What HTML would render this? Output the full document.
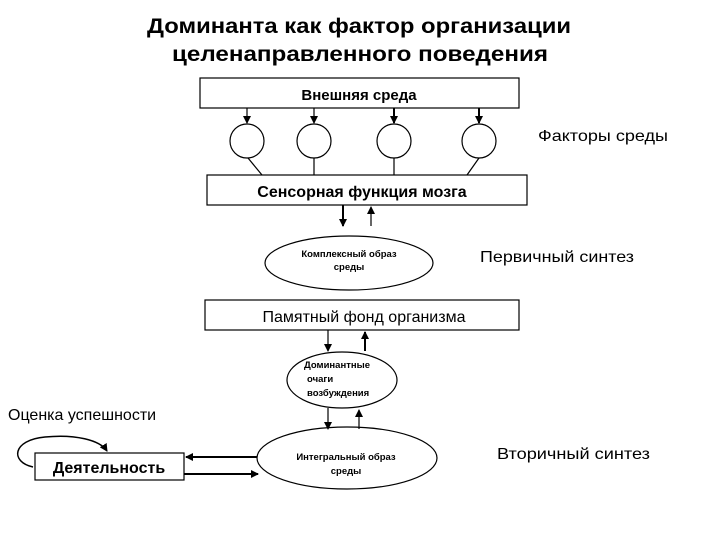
<!DOCTYPE html>
<html><head><meta charset="utf-8"><style>
html,body{margin:0;padding:0;background:#fff;}
svg{display:block;font-family:"Liberation Sans",Arial,sans-serif;}
</style></head><body>
<svg width="720" height="540" viewBox="0 0 720 540" xmlns="http://www.w3.org/2000/svg">
<defs>
<marker id="a" markerWidth="8" markerHeight="8" refX="7" refY="4" orient="auto" markerUnits="userSpaceOnUse">
<path d="M0,0 L8,4 L0,8 z" fill="#000"/></marker>
</defs>
<g fill="#000">
<text x="359" y="33" font-size="21" font-weight="bold" text-anchor="middle" textLength="424" lengthAdjust="spacingAndGlyphs">Доминанта как фактор организации</text>
<text x="360" y="61" font-size="21" font-weight="bold" text-anchor="middle" textLength="376" lengthAdjust="spacingAndGlyphs">целенаправленного поведения</text>
</g>
<g stroke="#000" fill="none" stroke-width="1.2">
<rect x="200" y="78" width="319" height="30" fill="#fff"/>
<circle cx="247" cy="141" r="17"/>
<circle cx="314" cy="141" r="17"/>
<circle cx="394" cy="141" r="17"/>
<circle cx="479" cy="141" r="17"/>
<line x1="247" y1="108" x2="247" y2="123" marker-end="url(#a)"/>
<line x1="314" y1="108" x2="314" y2="123" marker-end="url(#a)"/>
<line x1="394" y1="108" x2="394" y2="123" marker-end="url(#a)" stroke-width="2"/>
<line x1="479" y1="108" x2="479" y2="123" marker-end="url(#a)" stroke-width="2"/>
<line x1="248" y1="158" x2="262" y2="175"/>
<line x1="314" y1="158" x2="314" y2="175"/>
<line x1="394" y1="158" x2="394" y2="175"/>
<line x1="479" y1="158" x2="467" y2="175"/>
<rect x="207" y="175" width="320" height="30" fill="#fff"/>
<line x1="343" y1="205" x2="343" y2="226" marker-end="url(#a)" stroke-width="2"/>
<line x1="371" y1="226" x2="371" y2="207" marker-end="url(#a)"/>
<ellipse cx="349" cy="263" rx="84" ry="27"/>
<rect x="205" y="300" width="314" height="30" fill="#fff"/>
<line x1="328" y1="330" x2="328" y2="351" marker-end="url(#a)"/>
<line x1="365" y1="351" x2="365" y2="332" marker-end="url(#a)" stroke-width="2"/>
<ellipse cx="342" cy="380" rx="55" ry="28"/>
<line x1="328" y1="408" x2="328" y2="429" marker-end="url(#a)"/>
<line x1="359" y1="429" x2="359" y2="410" marker-end="url(#a)"/>
<ellipse cx="347" cy="458" rx="90" ry="31"/>
<rect x="35" y="453" width="149" height="27" fill="#fff"/>
<line x1="257" y1="457" x2="186" y2="457" marker-end="url(#a)" stroke-width="2"/>
<line x1="184" y1="474" x2="258" y2="474" marker-end="url(#a)" stroke-width="2"/>
<path d="M33,467 C10,462 12,440 45,437 C75,434 100,440 107,451" marker-end="url(#a)" stroke-width="1.5"/>
</g>
<g fill="#000">
<text x="359" y="100" font-size="15" font-weight="bold" text-anchor="middle">Внешняя среда</text>
<text x="538" y="141" font-size="16" textLength="130" lengthAdjust="spacingAndGlyphs">Факторы среды</text>
<text x="362" y="197" font-size="16" font-weight="bold" text-anchor="middle">Сенсорная функция мозга</text>
<text x="349" y="257" font-size="9.5" font-weight="bold" text-anchor="middle">Комплексный образ</text>
<text x="349" y="270" font-size="9.5" font-weight="bold" text-anchor="middle">среды</text>
<text x="480" y="262" font-size="16" textLength="154" lengthAdjust="spacingAndGlyphs">Первичный синтез</text>
<text x="364" y="322" font-size="16" text-anchor="middle">Памятный фонд организма</text>
<text x="304" y="368" font-size="9.5" font-weight="bold">Доминантные</text>
<text x="307" y="382" font-size="9.5" font-weight="bold">очаги</text>
<text x="307" y="396" font-size="9.5" font-weight="bold">возбуждения</text>
<text x="8" y="420" font-size="16">Оценка успешности</text>
<text x="109" y="473" font-size="16" font-weight="bold" text-anchor="middle">Деятельность</text>
<text x="346" y="460" font-size="9.5" font-weight="bold" text-anchor="middle">Интегральный образ</text>
<text x="346" y="474" font-size="9.5" font-weight="bold" text-anchor="middle">среды</text>
<text x="497" y="459" font-size="16" textLength="153" lengthAdjust="spacingAndGlyphs">Вторичный синтез</text>
</g>
</svg>
</body></html>
